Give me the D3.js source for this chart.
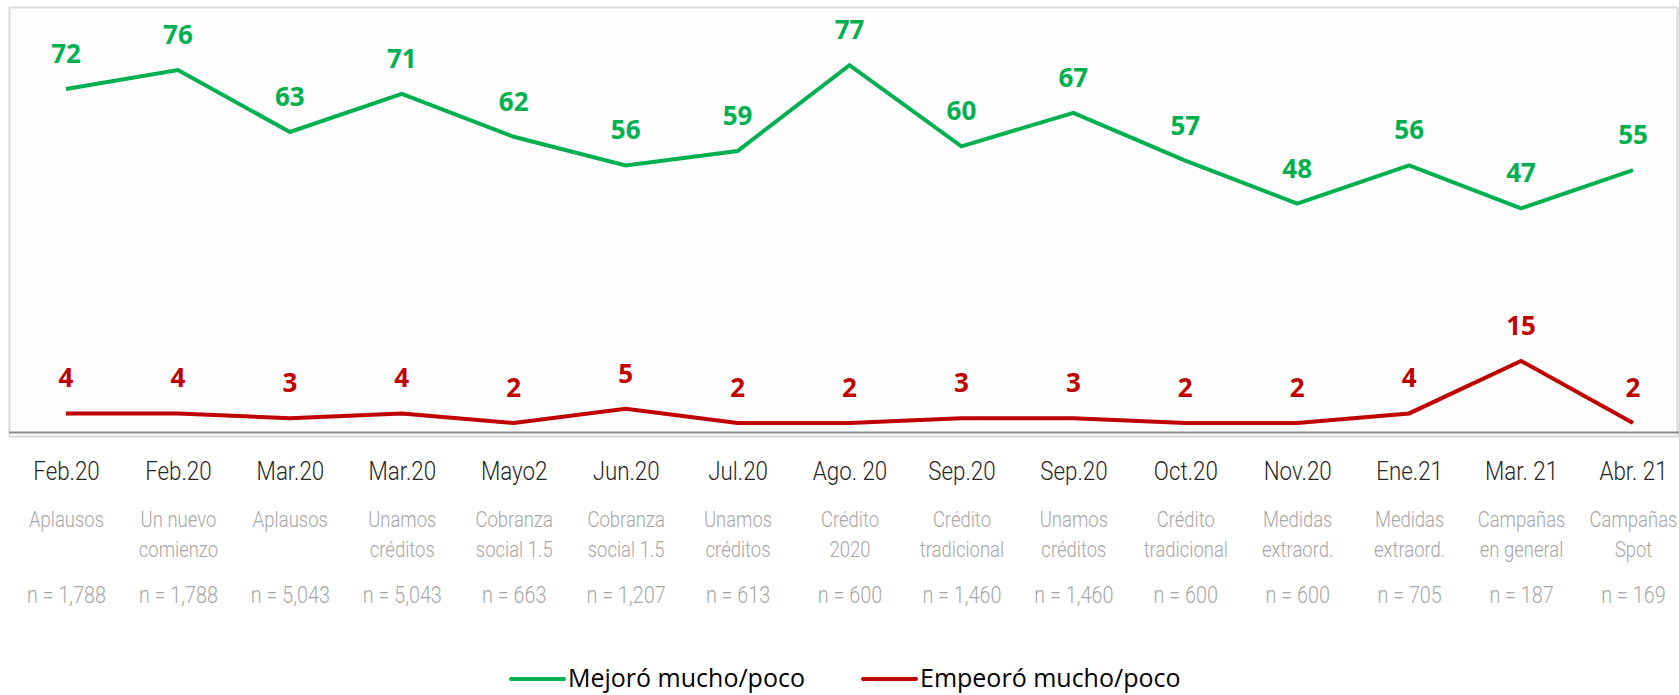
<!DOCTYPE html>
<meta charset="utf-8">
<script src="https://d3js.org/d3.v7.min.js"></script>
<style>
  body { margin: 0; background: #fff; }
</style>
<div id="my_dataviz"></div>
<script>

// Chart values
var months = ["Feb.20", "Feb.20", "Mar.20", "Mar.20", "Mayo2", "Jun.20", "Jul.20", "Ago. 20",
              "Sep.20", "Sep.20", "Oct.20", "Nov.20", "Ene.21", "Mar. 21", "Abr. 21"];
var campaigns = [["Aplausos"], ["Un nuevo", "comienzo"], ["Aplausos"], ["Unamos", "créditos"],
                 ["Cobranza", "social 1.5"], ["Cobranza", "social 1.5"], ["Unamos", "créditos"],
                 ["Crédito", "2020"], ["Crédito", "tradicional"], ["Unamos", "créditos"],
                 ["Crédito", "tradicional"], ["Medidas", "extraord."], ["Medidas", "extraord."],
                 ["Campañas", "en general"], ["Campañas", "Spot"]];
var sampleSizes = ["1,788", "1,788", "5,043", "5,043", "663", "1,207", "613", "600",
                   "1,460", "1,460", "600", "600", "705", "187", "169"];
var mejoro = [72, 76, 63, 71, 62, 56, 59, 77, 60, 67, 57, 48, 56, 47, 55];
var empeoro = [4, 4, 3, 4, 2, 5, 2, 2, 3, 3, 2, 2, 4, 15, 2];
var seriesNames = ["Mejoró mucho/poco", "Empeoró mucho/poco"];
var seriesColors = ["#00b050", "#c00000"];

var W = 1679, H = 695;

var svg = d3.select("#my_dataviz")
    .append("svg")
    .attr("width", W)
    .attr("height", H);

// plot frame
svg.append("rect")
    .attr("x", 9.5).attr("y", 7.5)
    .attr("width", 1668).attr("height", 429)
    .attr("fill", "#fdfdfd")
    .attr("stroke", "#d9d9d9")
    .attr("stroke-width", 2);

var idx = d3.range(months.length);

var x = d3.scalePoint()
    .domain(idx)
    .range([66, 1633]);

var y = d3.scaleLinear()
    .domain([0, 76])
    .range([432.5, 70]);

// x axis with month labels
var axis = svg.append("g")
    .attr("transform", "translate(0," + y(0) + ")")
    .call(d3.axisBottom(x).tickSize(0).tickFormat(function(i) { return months[i]; }));

axis.select(".domain")
    .attr("d", "M9," + 0 + "H1679")
    .attr("stroke", "#8c8c8c")
    .attr("stroke-width", 2);

axis.selectAll(".tick text")
    .attr("y", 47.5)
    .attr("dy", null)
    .attr("transform", "scale(0.86,1)")
    .style("font-family", "Roboto, sans-serif")
    .style("font-weight", 300)
    .style("font-size", "26px")
    .style("fill", "#262626");

// campaign names and sample sizes under each month
axis.selectAll(".tick").each(function(i) {
    var g = d3.select(this);
    var t = g.append("text")
        .attr("text-anchor", "middle")
        .attr("transform", "scale(0.84,1)")
        .style("font-family", "Roboto, sans-serif")
        .style("font-weight", 300)
        .style("font-size", "22px")
        .style("fill", "#a6a6a6");
    campaigns[i].forEach(function(line, k) {
        t.append("tspan")
            .attr("x", 0)
            .attr("y", 94.5 + k * 30)
            .text(line);
    });
    g.append("text")
        .attr("text-anchor", "middle")
        .attr("y", 170.5)
        .attr("transform", "scale(0.86,1)")
        .style("font-family", "Roboto, sans-serif")
        .style("font-weight", 300)
        .style("font-size", "23px")
        .style("fill", "#a6a6a6")
        .text("n = " + sampleSizes[i]);
});

// lines and value labels
var line = d3.line()
    .x(function(d, i) { return x(i); })
    .y(function(d) { return y(d); });

[mejoro, empeoro].forEach(function(series, s) {
    svg.append("path")
        .datum(series)
        .attr("d", line)
        .attr("fill", "none")
        .attr("stroke", seriesColors[s])
        .attr("stroke-width", 4)
        .attr("stroke-linejoin", "miter");

    svg.selectAll(null)
        .data(series)
        .enter()
        .append("text")
        .attr("x", function(d, i) { return x(i); })
        .attr("y", function(d) { return y(d) - 26; })
        .attr("text-anchor", "middle")
        .style("font-family", "'Open Sans', sans-serif")
        .style("font-weight", 700)
        .style("font-size", "26px")
        .style("fill", seriesColors[s])
        .text(function(d) { return d; });
});

// legend
var legendX = [511, 863];
seriesNames.forEach(function(name, s) {
    var lg = svg.append("g").attr("transform", "translate(" + legendX[s] + ",679)");
    lg.append("line")
        .attr("x1", 0).attr("x2", 53)
        .attr("stroke", seriesColors[s])
        .attr("stroke-width", 4)
        .attr("stroke-linecap", "round");
    lg.append("text")
        .attr("x", 57)
        .attr("y", 8)
        .style("font-family", "'Open Sans', sans-serif")
        .style("font-size", "25px")
        .style("fill", "#000")
        .text(name);
});

</script>
